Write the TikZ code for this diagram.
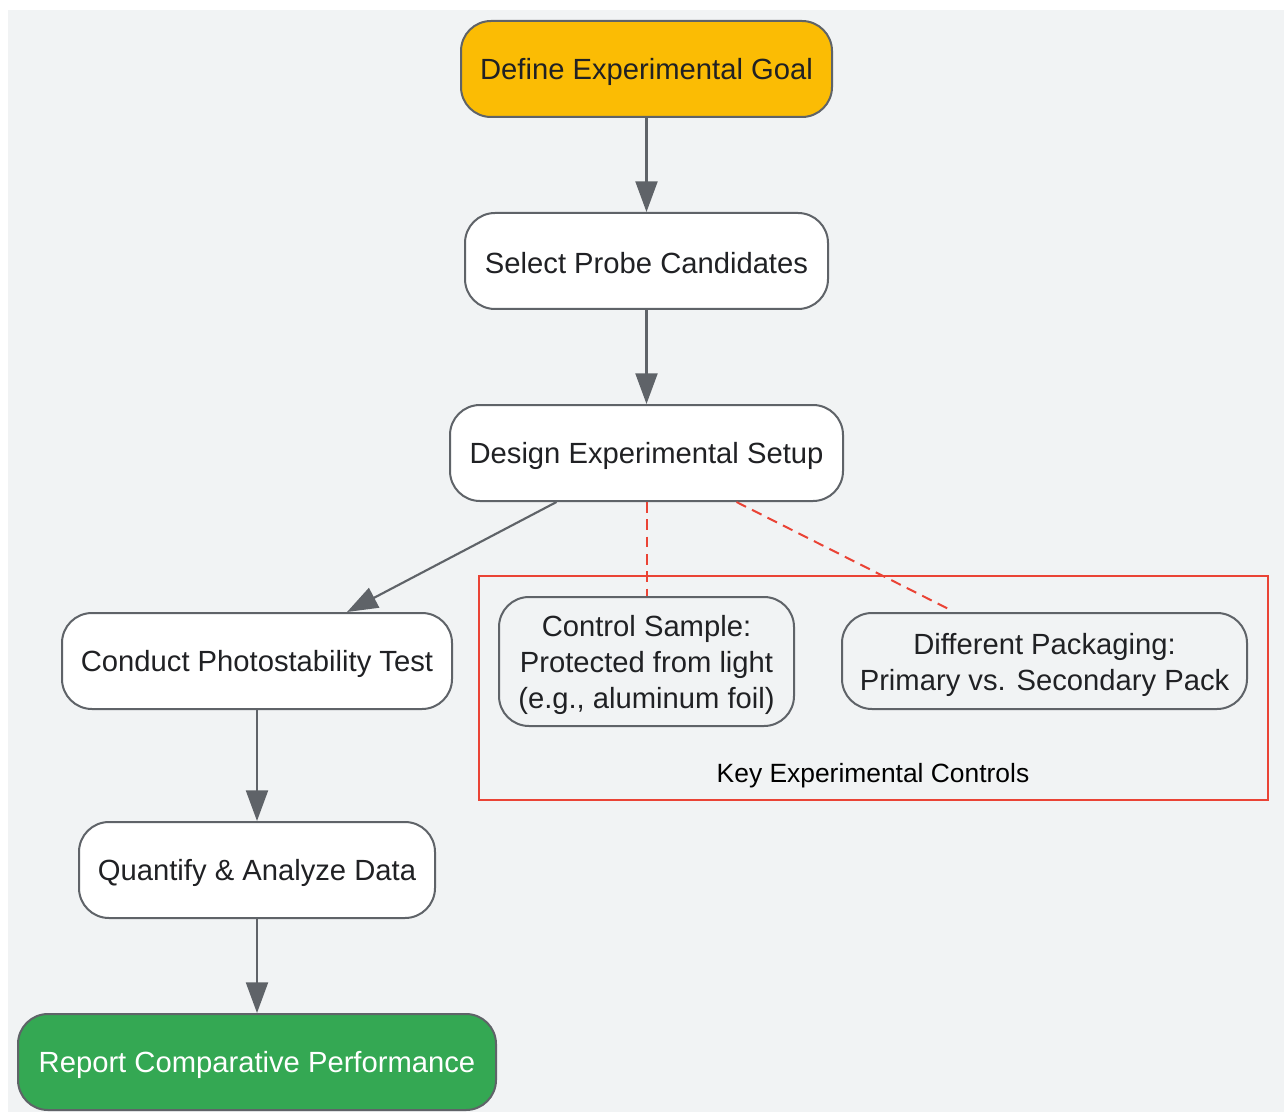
\documentclass[tikz,border=0pt]{standalone}
\usepackage{fontspec}
\setmainfont{Liberation Sans}
\usetikzlibrary{arrows.meta,calc}
\definecolor{bgc}{HTML}{F1F3F4}
\definecolor{edgec}{HTML}{5F6368}
\definecolor{txtc}{HTML}{202124}
\definecolor{goldc}{HTML}{FBBC04}
\definecolor{greenc}{HTML}{34A853}
\definecolor{redc}{HTML}{EA4335}
\tikzset{
  box/.style={draw=edgec, line width=1.5pt, rounded corners=22.5pt, fill=white,
    text=txtc, font=\fontsize{21.9pt}{27pt}\selectfont, align=center,
    inner sep=0pt, minimum height=72pt,
    execute at begin node={\rule{0pt}{19.6pt}}},
  flow/.style={draw=edgec, line width=1.6pt, -{Triangle[length=23pt,width=16.5pt]}},
  ctl/.style={draw=redc, line width=1.5pt, dash pattern=on 8pt off 5pt},
}
\begin{document}
\begin{tikzpicture}[x=0.75pt,y=-0.75pt]
\useasboundingbox (0,0) rectangle (1284,1112);
\fill[white] (0,0) rectangle (1284,1112);
\fill[bgc] (8,10) rectangle (1284,1112);
\node[box, fill=goldc, minimum width=278.25pt] (goal) at (646.5,69) {Define Experimental Goal};
\node[box, minimum width=272.25pt] (select) at (646.5,261) {Select Probe Candidates};
\node[box, minimum width=294.75pt] (design) at (646.5,453) {Design Experimental Setup};
\node[box, minimum width=292.5pt] (conduct) at (257,661) {Conduct Photostability Test};
\node[box, minimum width=267pt] (quant) at (257,870) {Quantify \& Analyze Data};
\node[box, fill=greenc, text=white, minimum width=358.5pt] (report) at (257,1062) {Report Comparative Performance};
\draw[draw=redc, line width=1.5pt] (479,576) rectangle (1268,800);
\node[font=\fontsize{19.8pt}{24pt}\selectfont, text=black] (keylbl) at (873,776) {Key Experimental Controls};
\node[box, fill=bgc, minimum width=221.25pt, minimum height=96.75pt] (control) at (646.5,661.5) {\rule{0pt}{21pt}Control Sample:\\Protected from light\\(e.g., aluminum foil)};
\node[box, fill=bgc, minimum width=303.75pt] (pack) at (1044.5,661) {\rule{0pt}{21.5pt}Different Packaging:\\Primary vs. Secondary Pack};
\draw[flow] (goal) -- (select);
\draw[flow] (select) -- (design);
\draw[flow] ($(design.south)+(-90,0)$) -- ($(conduct.north)+(90,0)$);
\draw[flow] (conduct) -- (quant);
\draw[flow] (quant) -- (report);
\draw[ctl] (design.south) -- (control.north);
\draw[ctl] ($(design.south)+(90,0)$) -- ($(pack.north)+(-94,-2)$);
\end{tikzpicture}
\end{document}
